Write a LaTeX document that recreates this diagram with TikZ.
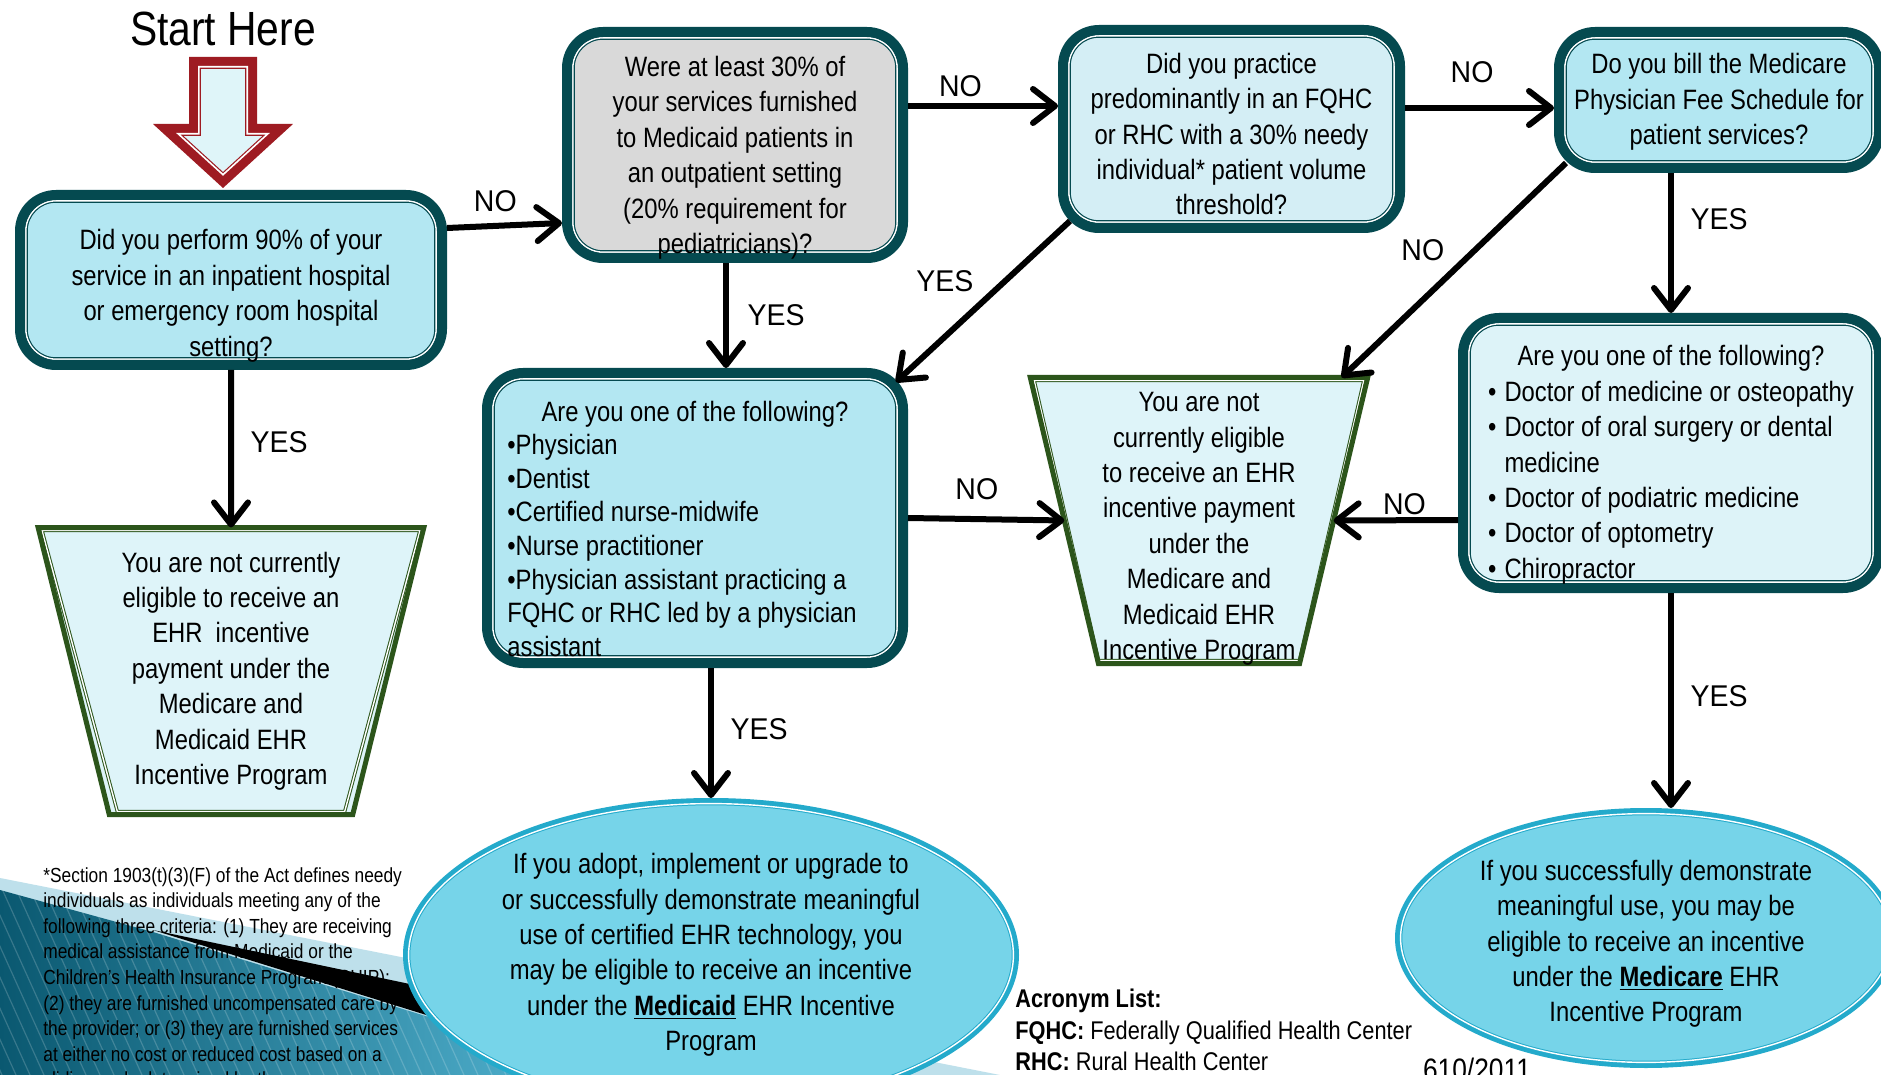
\documentclass[tikz,border=0pt]{standalone}
\usepackage{fontspec}
\setmainfont[FakeStretch=0.85]{Liberation Sans}
\newfontfamily\yesnofont[FakeStretch=0.95]{Liberation Sans}
\usepackage{xcolor}
\usepackage{tikz}
\usetikzlibrary{calc}
\usetikzlibrary{arrows.meta}
\usetikzlibrary{shapes.geometric}

\definecolor{boxline}{RGB}{5,74,80}
\definecolor{boxblue}{RGB}{179,231,242}
\definecolor{boxmid}{RGB}{212,238,245}
\definecolor{boxpale}{RGB}{221,243,248}
\definecolor{boxgrey}{RGB}{217,217,217}
\definecolor{trapline}{RGB}{44,85,27}
\definecolor{trapfill}{RGB}{222,244,249}
\definecolor{ovalfill}{RGB}{118,212,233}
\definecolor{ovalline}{RGB}{36,170,203}
\definecolor{startred}{RGB}{158,27,34}
\definecolor{startfill}{RGB}{223,245,249}
\definecolor{decodark}{RGB}{10,88,112}
\definecolor{decolight}{RGB}{88,186,216}
\definecolor{decopale}{RGB}{190,224,235}

% text sits a little low in the boxes
\newcommand{\lowered}[2]{\raisebox{-#1}[\height][\depth]{#2}}

\begin{document}
\begin{tikzpicture}[x=0.5pt,y=-0.5pt]
			\tikzset{ring/.style={draw=boxline, double=white, line width=0.6pt, double distance=0.8pt, rounded corners=15pt}}
			\tikzset{question/.style={shape=rectangle, rounded corners=18pt, draw=boxline, line width=5pt, align=center, inner sep=2pt, font=\fontsize{14}{17.7}\selectfont,
				path picture={\draw[ring] ([shift={(2.9pt,-2.9pt)}]path picture bounding box.north west) rectangle ([shift={(-2.9pt,2.9pt)}]path picture bounding box.south east);}}}
			\tikzset{trapring/.style={draw=trapline, double=white, line width=0.5pt, double distance=0.7pt}}
			\tikzset{ineligible/.style={trapezium, trapezium stretches=true, draw=trapline, line width=2.5pt, fill=trapfill, outer sep=0pt, inner sep=0pt, align=center, font=\fontsize{14}{17.7}\selectfont,
				path picture={\draw[trapring] ([shift={(1.95pt,-1.5pt)}]path picture bounding box.north west) -- ([shift={(-1.95pt,-1.5pt)}]path picture bounding box.north east) -- ([shift={(-#1-1.15pt,1.5pt)}]path picture bounding box.south east) -- ([shift={(#1+1.15pt,1.5pt)}]path picture bounding box.south west) -- cycle;}}}
			\tikzset{oval/.style={ellipse, draw=ovalline, line width=2.5pt, fill=ovalfill, inner sep=0pt, align=center, font=\fontsize{14}{17.7}\selectfont}}
			\tikzset{ovalring/.style={draw=ovalline, double=white, line width=0.5pt, double distance=0.7pt}}
			\tikzset{flow/.style={line width=3pt, -{Straight Barb[length=11pt, width=17pt, round]}}}
			\tikzset{lbl/.style={font=\yesnofont\fontsize{15}{18}\selectfont}}
			\useasboundingbox[fill=white] (0,0) rectangle (1881,1075);
			% corner decoration
			\fill[decopale] (0,878) -- (1000,1075) -- (0,1075) -- cycle;
			\shade[left color=decodark, right color=decolight] (0,890) -- (153,932) -- (617,1075) -- (0,1075) -- cycle;
			\begin{scope}
				\clip (0,890) -- (153,932) -- (617,1075) -- (0,1075) -- cycle;
				\foreach \s in {-100,-86,...,620}
					\draw[white, opacity=0.18, line width=0.6pt] (\s,880) -- (\s+88,1075);
			\end{scope}
			\fill[black] (153,930) -- (600,1024) -- (600,1069) -- cycle;
			\node[anchor=north west, align=left, inner sep=0pt, font=\fontsize{10.2}{12.8}\selectfont] (footnote) at (43,867) {*Section 1903(t)(3)(F) of the Act defines needy\\individuals as individuals meeting any of the\\following three criteria: (1) They are receiving\\medical assistance from Medicaid or the\\Children’s Health Insurance Program (CHIP);\\(2) they are furnished uncompensated care by\\the provider; or (3) they are furnished services\\at either no cost or reduced cost based on a\\sliding scale determined by the};
			% start arrow
			\node[font=\fontsize{24}{28}\selectfont] (start) at (223,29) {Start Here};
			\draw[startred, line width=4.5pt, fill=startfill] (193.5,61.5) -- (252.5,61.5) -- (252.5,128.5) -- (281.4,128.5) -- (223,181.9) -- (164.6,128.5) -- (193.5,128.5) -- cycle;
			\draw[startred, double=white, line width=0.6pt, double distance=0.8pt] (198.8,66.8) -- (247.2,66.8) -- (247.2,133.8) -- (267.8,133.8) -- (223,174.7) -- (178.2,133.8) -- (198.8,133.8) -- cycle;
			% questions
			\node[question, fill=boxblue, minimum width=211pt, minimum height=85pt] (did90) at (231,280) {\lowered{8pt}{\begin{tabular}{@{}c@{}}Did you perform 90\% of your\\service in an inpatient hospital\\or emergency room hospital\\setting?\end{tabular}}};
			\node[question, fill=boxgrey, minimum width=168pt, minimum height=113pt] (thirty) at (735,145) {\lowered{6.5pt}{\begin{tabular}{@{}c@{}}Were at least 30\% of\\your services furnished\\to Medicaid patients in\\an outpatient setting\\(20\% requirement for\\pediatricians)?\end{tabular}}};
			\node[question, fill=boxmid, minimum width=168.5pt, minimum height=99pt] (fqhc) at (1231.5,129) {\lowered{4pt}{\begin{tabular}{@{}c@{}}Did you practice\\predominantly in an FQHC\\or RHC with a 30\% needy\\individual* patient volume\\threshold?\end{tabular}}};
			\node[question, fill=boxblue, minimum width=160pt, minimum height=68pt] (medbill) at (1719,100) {\lowered{1pt}{\begin{tabular}{@{}c@{}}Do you bill the Medicare\\Physician Fee Schedule for\\patient services?\end{tabular}}};
			\node[question, fill=boxblue, minimum width=208pt, minimum height=145pt] (listmid) at (695,518) {\lowered{7pt}{\renewcommand{\arraystretch}{0.95}\begin{tabular}{@{}l@{\hspace{13pt}}}\multicolumn{1}{@{}c@{}}{Are you one of the following?}\\•Physician\\•Dentist\\•Certified nurse-midwife\\•Nurse practitioner\\•Physician assistant practicing a\\FQHC or RHC led by a physician\\assistant\end{tabular}}};
			\node[question, fill=boxpale, minimum width=208pt, minimum height=135pt] (listright) at (1671,453) {\lowered{6pt}{\begin{tabular}{@{}l@{\hspace{4pt}}l@{}}\multicolumn{2}{@{}c@{}}{Are you one of the following?}\\• & Doctor of medicine or osteopathy\\• & Doctor of oral surgery or dental\\ & medicine\\• & Doctor of podiatric medicine\\• & Doctor of optometry\\• & Chiropractor\end{tabular}}};
			% not eligible
			\node[ineligible=38.45pt, trapezium left angle=105, trapezium right angle=105, minimum width=193pt, minimum height=143.5pt] (ineligleft) at (231,671) {You are not currently\\eligible to receive an\\EHR~ incentive\\payment under the\\Medicare and\\Medicaid EHR\\Incentive Program};
			\node[ineligible=33pt, trapezium left angle=103, trapezium right angle=103, minimum width=169pt, minimum height=143pt] (ineligmid) at (1199,520.5) {\lowered{4pt}{\begin{tabular}{@{}c@{}}You are not\\currently eligible\\to receive an EHR\\incentive payment\\under the\\Medicare and\\Medicaid EHR\\Incentive Program\end{tabular}}};
			% incentive programs
			\node[oval, minimum width=305.5pt, minimum height=154.5pt] (medicaid) at (711,955) {If you adopt, implement or upgrade to\\or successfully demonstrate meaningful\\use of certified EHR technology, you\\may be eligible to receive an incentive\\under the \underline{\textbf{Medicaid}} EHR Incentive\\Program};
			\node[oval, minimum width=248.5pt, minimum height=127.5pt] (medicare) at (1646,938) {\lowered{3pt}{\begin{tabular}{@{}c@{}}If you successfully demonstrate\\meaningful use, you may be\\eligible to receive an incentive\\under the \underline{\textbf{Medicare}} EHR\\Incentive Program\end{tabular}}};
			\draw[ovalring] (medicaid.center) ellipse [x radius=151.2pt, y radius=75.7pt];
			\draw[ovalring] (medicare.center) ellipse [x radius=122.7pt, y radius=62.2pt];
			% notes
			\node[anchor=north west, align=left, inner sep=0pt, font=\fontsize{12.8}{15.6}\selectfont] (acronyms) at (1015,989) {\textbf{Acronym List:}\\\textbf{FQHC:} Federally Qualified Health Center\\\textbf{RHC:} Rural Health Center};
			\node[anchor=base, inner sep=0pt, font=\fontsize{15.5}{18}\selectfont] (date) at (1477,1080) {610/2011};
			% connectors
			\draw[flow] ($(did90.east)+(0,-52)$) -- ($(thirty.west)+(0,78)$) node[lbl, pos=0.42, above=2pt] {NO};
			\draw[flow] ($(thirty.east)+(0,-39)$) -- ($(fqhc.west)+(0,-23)$) node[lbl, pos=0.35, above] {NO};
			\draw[flow] ($(fqhc.east)+(0,-21)$) -- ($(medbill.west)+(0,8)$) node[lbl, pos=0.45, above=8pt] {NO};
			\draw[flow] ($(thirty.south)+(-9,0)$) -- ($(listmid.north)+(31,0)$) node[lbl, pos=0.5, right=6pt] {YES};
			\draw[flow] ($(fqhc.south west)+(12,-12)$) -- ($(listmid.north east)+(-12,14)$) node[lbl, pos=0.5, above left] {YES};
			\draw[flow] ($(medbill.south west)+(12,-10)$) -- ($(ineligmid.top right corner)+(-26,0)$) node[lbl, pos=0.5, above left] {NO};
			\draw[flow] (medbill.south -| listright.north) -- (listright.north) node[lbl, pos=0.33, right=5pt] {YES};
			\draw[flow] (did90.south) -- (ineligleft.north) node[lbl, pos=0.46, right=5pt] {YES};
			\draw[flow] (listmid.east) -- (ineligmid.west) node[lbl, pos=0.44, above=5pt] {NO};
			\draw[flow] ($(listright.west)+(0,67)$) -- (ineligmid.east) node[lbl, pos=0.43, above=-2pt] {NO};
			\draw[flow] (listmid.south -| medicaid.north) -- (medicaid.north) node[lbl, pos=0.47, right=5pt] {YES};
			\draw[flow] (listright.south) -- (listright.south |- medicare.north) node[lbl, pos=0.48, right=5pt] {YES};
		\end{tikzpicture}
\end{document}
